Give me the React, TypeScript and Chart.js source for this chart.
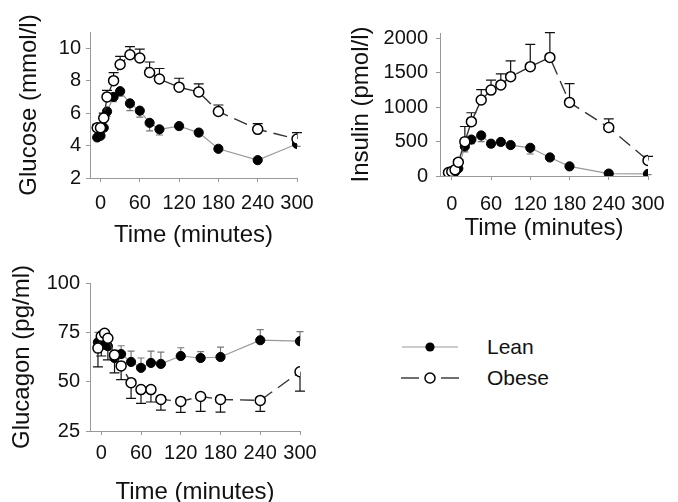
import React, { useEffect, useRef } from "react";
import { Chart, registerables } from "chart.js";
Chart.register(...registerables);

const FONT = "'Liberation Sans', Arial, sans-serif";

const times = [-5, 0, 5, 10, 20, 30, 45, 60, 75, 90, 120, 150, 180, 240, 300];
const xTicks = [0, 60, 120, 180, 240, 300];

const glucoseTicks = [2, 4, 6, 8, 10];
const glucoseObese = [5.1, 5.1, 5.7, 7.0, 8.0, 9.0, 9.6, 9.4, 8.5, 8.1, 7.6, 7.3, 6.1, 5.0, 4.4];
const glucoseObeseErr = [0.2, 0.2, 0.3, 0.4, 0.5, 0.5, 0.5, 0.55, 0.65, 0.65, 0.55, 0.5, 0.4, 0.35, 0.4];
const glucoseLean = [4.5, 4.6, 5.1, 6.1, 7.0, 7.35, 6.6, 6.15, 5.4, 5.0, 5.2, 4.8, 3.8, 3.1, 4.1];
const glucoseLeanErr = [0.1, 0.1, 0.2, 0.3, 0.3, 0.3, 0.45, 0.4, 0.5, 0.35, 0.2, 0.2, 0.15, 0.1, 0.15];

const insulinTicks = [0, 500, 1000, 1500, 2000];
const insulinObese = [50, 65, 90, 200, 500, 790, 1105, 1250, 1325, 1445, 1590, 1725, 1070, 705, 225];
const insulinObeseErr = [20, 20, 25, 40, 220, 130, 150, 145, 160, 230, 325, 360, 275, 125, 60];
const insulinLean = [40, 40, 60, 110, 430, 530, 590, 470, 495, 450, 410, 270, 140, 35, 30];
const insulinLeanErr = [10, 10, 15, 30, 80, 60, 90, 50, 50, 40, 90, 30, 20, 10, 10];

const glucagonTicks = [25, 50, 75, 100];
const glucagonObese = [67, 73, 74.5, 72, 63.5, 58, 49.5, 46, 46, 41, 40, 42.5, 41, 40.5, 55];
const glucagonObeseErr = [9.5, 10, 8, 11, 9, 7, 8, 7, 6.3, 5.4, 5.6, 7.6, 6.4, 5.6, 9.8];
const glucagonLean = [70, 70.5, 69, 68, 62, 64, 60, 57, 59.5, 59, 63, 62, 62.5, 71, 70.5];
const glucagonLeanErr = [5, 5, 4, 4, 4, 4.2, 5.5, 5, 6, 6, 4.2, 3.2, 5, 5.4, 4.9];

const errorBarPlugin = {
  id: "errorBars",
  beforeDatasetsDraw(chart: any) {
    const ctx = chart.ctx;
    const yScale = chart.scales.y;
    chart.data.datasets.forEach((ds: any, i: number) => {
      if (!ds.errors) return;
      const meta = chart.getDatasetMeta(i);
      ctx.save();
      ctx.strokeStyle = ds.errorColor;
      ctx.lineWidth = 1.2;
      ctx.setLineDash([]);
      meta.data.forEach((pt: any, j: number) => {
        const v = ds.data[j].y;
        const yEnd = yScale.getPixelForValue(v + ds.errorDir * ds.errors[j]);
        ctx.beginPath();
        ctx.moveTo(pt.x, pt.y);
        ctx.lineTo(pt.x, yEnd);
        ctx.moveTo(pt.x - ds.capHalf, yEnd);
        ctx.lineTo(pt.x + ds.capHalf, yEnd);
        ctx.stroke();
      });
      ctx.restore();
    });
  },
};

function pts(vals: number[]) {
  return times.map((t, i) => ({ x: t, y: vals[i] }));
}

function makeConfig(p: any) {
  return {
    type: "line",
    data: {
      datasets: [
        {
          label: "Obese",
          data: pts(p.obese),
          errors: p.obeseErr,
          errorDir: p.obeseDir,
          errorColor: "#111",
          capHalf: 5,
          borderColor: "#333",
          borderWidth: 1.4,
          borderDash: [14, 7],
          pointRadius: 5,
          pointBorderWidth: 1.5,
          pointBackgroundColor: "#fff",
          pointBorderColor: "#000",
          tension: 0,
          order: 0,
        },
        {
          label: "Lean",
          data: pts(p.lean),
          errors: p.leanErr,
          errorDir: p.leanDir,
          errorColor: "#777",
          capHalf: 3.5,
          borderColor: "#999",
          borderWidth: 1.2,
          pointRadius: 4.6,
          pointBorderWidth: 1,
          pointBackgroundColor: "#000",
          pointBorderColor: "#000",
          tension: 0,
          order: 1,
        },
      ],
    },
    options: {
      animation: false,
      responsive: false,
      maintainAspectRatio: false,
      layout: { padding: { top: p.padTop, right: p.padRight, left: 0, bottom: 0 } },
      plugins: { legend: { display: false }, tooltip: { enabled: false } },
      scales: {
        x: {
          type: "linear",
          min: p.xMin,
          max: 300,
          afterBuildTicks: (s: any) => {
            s.ticks = xTicks.map((v) => ({ value: v }));
          },
          afterFit: (s: any) => {
            s.height = p.xH;
          },
          grid: { display: true, drawOnChartArea: false, drawTicks: true, tickLength: 4, color: "#999", lineWidth: 1 },
          border: { display: true, color: "#999", width: 1 },
          ticks: {
            color: "#111",
            font: { family: FONT, size: 20 },
            padding: p.xTickPad,
            maxRotation: 0,
            autoSkip: false,
            callback: (v: any) => String(v),
          },
          title: {
            display: true,
            text: "Time (minutes)",
            color: "#111",
            font: { family: FONT, size: 24, lineHeight: 1.2 },
            padding: { top: 0, bottom: p.xTitlePad },
          },
        },
        y: {
          type: "linear",
          min: p.yMin,
          max: p.yMax,
          afterBuildTicks: (s: any) => {
            s.ticks = p.yTicks.map((v: number) => ({ value: v }));
          },
          afterFit: (s: any) => {
            s.width = p.yW;
          },
          grid: { display: true, drawOnChartArea: false, drawTicks: true, tickLength: 4, color: "#999", lineWidth: 1 },
          border: { display: true, color: "#999", width: 1 },
          ticks: {
            color: "#111",
            font: { family: FONT, size: 20 },
            padding: p.yTickPad,
            autoSkip: false,
            callback: (v: any) => String(v),
          },
          title: {
            display: true,
            text: p.yTitle,
            color: "#111",
            font: { family: FONT, size: 24, lineHeight: 1.2 },
            padding: { top: p.yTitlePad, bottom: 0 },
          },
        },
      },
    },
    plugins: [errorBarPlugin],
  };
}

function Panel({ left, top, width, height, params }: any) {
  const ref = useRef<HTMLCanvasElement | null>(null);
  useEffect(() => {
    const chart = new Chart(ref.current as any, makeConfig(params) as any);
    return () => chart.destroy();
  }, []);
  return (
    <canvas
      ref={ref}
      width={width}
      height={height}
      style={{ position: "absolute", left, top, width, height }}
    />
  );
}

const glucoseParams = {
  obese: glucoseObese, obeseErr: glucoseObeseErr, obeseDir: 1,
  lean: glucoseLean, leanErr: glucoseLeanErr, leanDir: -1,
  yMin: 2, yMax: 11, yTicks: glucoseTicks, yTitle: "Glucose (mmol/l)",
  xMin: -16, padTop: 32, padRight: 33, yW: 90, xH: 72,
  yTickPad: 5, xTickPad: 9, yTitlePad: 15.3, xTitlePad: 0.6,
};

const insulinParams = {
  obese: insulinObese, obeseErr: insulinObeseErr, obeseDir: 1,
  lean: insulinLean, leanErr: insulinLeanErr, leanDir: -1,
  yMin: 0, yMax: 2080, yTicks: insulinTicks, yTitle: "Insulin (pmol/l)",
  xMin: -18, padTop: 33, padRight: 30, yW: 110, xH: 74,
  yTickPad: 8, xTickPad: 12, yTitlePad: 16.6, xTitlePad: 7,
};

const glucagonParams = {
  obese: glucagonObese, obeseErr: glucagonObeseErr, obeseDir: -1,
  lean: glucagonLean, leanErr: glucagonLeanErr, leanDir: 1,
  yMin: 25, yMax: 100, yTicks: glucagonTicks, yTitle: "Glucagon (pg/ml)",
  xMin: -17, padTop: 33, padRight: 30, yW: 90, xH: 71,
  yTickPad: 6, xTickPad: 6.5, yTitlePad: 7.6, xTitlePad: -4.9,
};

function LegendRow({ top, label, dashed }: any) {
  return (
    <div style={{ position: "absolute", left: 398, top: top - 15, height: 30, width: 200 }}>
      <svg width={64} height={30} style={{ position: "absolute", left: 0, top: 0 }}>
        {dashed ? (
          <g stroke="#333" strokeWidth={1.4}>
            <line x1={3} y1={15} x2={21} y2={15} />
            <line x1={43} y1={15} x2={61} y2={15} />
          </g>
        ) : (
          <line x1={4} y1={15} x2={60} y2={15} stroke="#999" strokeWidth={1.2} />
        )}
        {dashed ? (
          <circle cx={32} cy={15} r={5} fill="#fff" stroke="#000" strokeWidth={1.5} />
        ) : (
          <circle cx={32} cy={15} r={4.6} fill="#000" />
        )}
      </svg>
      <div
        style={{
          position: "absolute",
          left: 89,
          top: 0,
          height: 30,
          lineHeight: "30px",
          fontFamily: FONT,
          fontSize: 21,
          color: "#111",
          whiteSpace: "nowrap",
        }}
      >
        {label}
      </div>
    </div>
  );
}

export default function App() {
  return (
    <div
      style={{
        position: "absolute",
        left: 0,
        top: 0,
        width: 678,
        height: 502,
        overflow: "hidden",
        background: "#fff",
      }}
    >
      <Panel left={0} top={0} width={330} height={250} params={glucoseParams} />
      <Panel left={330} top={0} width={348} height={250} params={insulinParams} />
      <Panel left={0} top={250} width={330} height={252} params={glucagonParams} />
      <LegendRow top={347} label="Lean" dashed={false} />
      <LegendRow top={378} label="Obese" dashed={true} />
    </div>
  );
}
